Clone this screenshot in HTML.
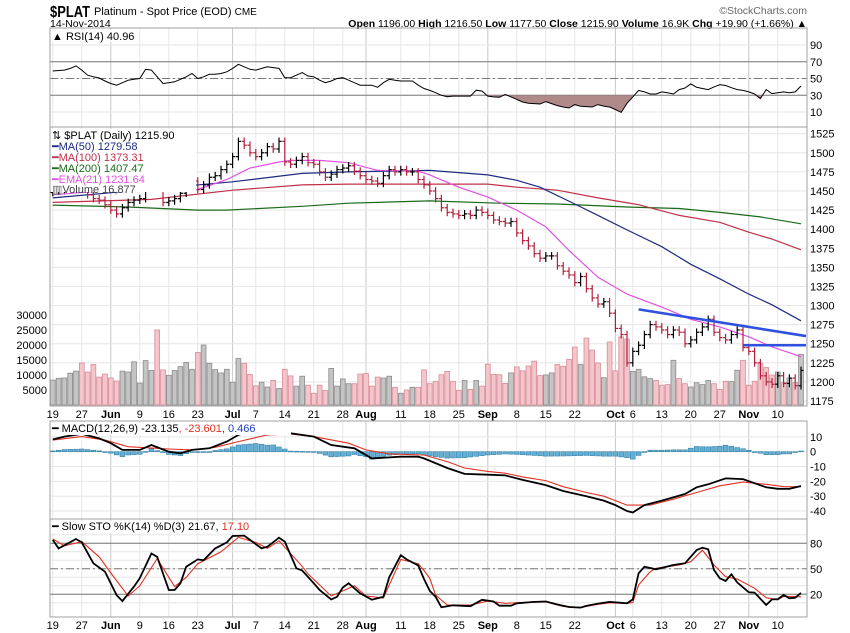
<!DOCTYPE html>
<html><head><meta charset="utf-8"><style>
body{margin:0;background:#fff;}
svg{display:block;font-family:"Liberation Sans",sans-serif;}
</style></head><body>
<svg id="chart" width="850" height="633" viewBox="0 0 850 633" xmlns="http://www.w3.org/2000/svg">
<rect width="850" height="633" fill="#fff"/>
<g>
<text x="50" y="17" font-size="16" font-weight="bold" textLength="40" lengthAdjust="spacingAndGlyphs">$PLAT</text>
<text x="94" y="15" font-size="11">Platinum  - Spot Price (EOD) <tspan font-size="10">CME</tspan></text>
<text x="50" y="27" font-size="10.5">14-Nov-2014</text>
<text x="807" y="14" font-size="10.5" fill="#666" text-anchor="end">©StockCharts.com</text>
<text x="807" y="27" font-size="10.5" text-anchor="end"><tspan font-weight="bold">Open</tspan> 1196.00 <tspan font-weight="bold">High</tspan> 1216.50 <tspan font-weight="bold">Low</tspan> 1177.50 <tspan font-weight="bold">Close</tspan> 1215.90 <tspan font-weight="bold">Volume</tspan> 16.9K <tspan font-weight="bold">Chg</tspan> +19.90 (+1.66%) ▲</text>
</g>
<g id="grid"></g>
<g id="marks"></g>
<g id="axes"></g>
</svg>
<script>
const closes=[1450,1452,1455,1460,1465,1455,1445,1440,1438,1432,1425,1420,1428,1435,1438,1440,1482,1483,1455,1435,1437,1440,1447,1455,1463,1452,1458,1468,1470,1478,1485,1495,1515,1510,1500,1495,1500,1508,1505,1515,1488,1485,1490,1495,1487,1485,1475,1468,1472,1478,1480,1483,1476,1470,1465,1463,1460,1470,1478,1475,1478,1475,1475,1465,1458,1450,1440,1428,1422,1420,1418,1420,1418,1425,1422,1418,1412,1410,1408,1410,1395,1385,1378,1368,1362,1365,1365,1352,1345,1340,1330,1338,1322,1310,1302,1305,1290,1270,1262,1225,1240,1248,1262,1275,1272,1268,1262,1268,1265,1250,1255,1265,1272,1282,1265,1258,1255,1262,1268,1245,1240,1225,1208,1200,1197,1208,1198,1205,1195,1215];
const volumesK=[8.3,8.9,9.0,10.6,11.3,14.0,11.0,13.5,9.3,10.3,9.0,8.0,11.3,11.0,14.4,7.3,14.8,11.5,25.0,11.7,9.9,11.5,12.8,14.2,11.9,17.5,20.0,13.9,11.8,10.7,11.9,7.6,15.5,13.9,10.2,6.4,7.6,6.0,8.2,5.5,11.9,9.7,6.3,9.6,6.6,3.9,6.6,4.8,12.2,6.3,8.7,7.1,7.1,10.3,10.5,6.3,9.3,9.0,9.6,5.9,3.9,5.0,5.9,5.9,11.7,7.1,7.9,10.1,11.2,7.9,4.9,8.2,5.2,8.2,6.3,13.6,10.2,10.1,7.2,10.7,12.7,11.4,13.0,14.6,9.8,10.0,10.7,13.5,12.9,15.2,19.3,13.5,22.3,18.3,14.0,9.1,21.0,11.4,22.7,22.0,11.2,11.9,9.4,8.8,8.2,6.6,6.8,14.9,8.8,7.1,6.0,7.4,6.8,8.2,7.1,5.2,7.9,7.8,11.6,14.9,6.6,7.9,14.0,12.5,10.0,11.0,7.5,9.0,7.5,16.9];
const rsiValues=[59,59.5,60,62,65,60,54,52,50.6,47,44,42,45,48,49,50,61,60,52,44,45,46,49,52,56,50,52,55,55,56,58,62,67,64,61,60,62,64,63,62,51,51,54,57,53,52,48,45,47,50,51,48,45,42,42,42,39.5,45,49,48,47,47,47,42,38,35.8,33,30,28.3,29,29,29,29,36,35,29,28,27.7,31,28,25,22,20.4,20,19.6,22.4,20,17.6,16,14.8,18.8,16.8,16.5,16,18.8,17,16,13,9.5,20.4,28,35.8,34,31.5,31.5,34,33,31.5,36.7,38.7,43.5,39.5,38,36.7,40,42.7,41.6,39,36.7,35.8,34,31.5,26,36.7,32,33,34,33,34,41];
const ma50Idx=[0,31,43,51,65,75,80,84,90,94,99,105,110,115,120,124,129];
const ma50Val=[1441,1462,1473,1475,1477,1471,1464,1455,1433,1418,1399,1377,1354,1335,1315,1301,1280];
const ma100Idx=[0,17,31,43,51,65,75,80,87,94,101,108,115,120,124,129];
const ma100Val=[1435,1439,1451,1458,1459,1459,1459,1455,1451,1441,1432,1418,1409,1396,1387,1373];
const ma200Idx=[0,13,25,30,43,51,65,77,87,99,108,115,122,129];
const ma200Val=[1431.5,1429,1425,1425,1430,1434,1437,1434,1433,1429,1427,1422,1416,1407];
const emaIdx=[0,8,17,21,25,30,34,39,41,46,51,56,63,65,70,75,80,85,89,94,99,105,110,115,120,124,129];
const emaVal=[1445,1450,1458,1451,1452,1465,1480,1488,1490,1490,1487,1477,1476,1471,1455,1442,1425,1403,1372,1337,1315,1298,1282,1272,1259,1246,1233];
const macdIdx=[0,2,5,8,10,12,15,17,20,22,24,27,30,32,35,38,41,45,48,52,55,60,63,64,68,71,75,78,81,85,88,92,95,97,99,100,102,105,109,111,113,116,119,123,125,127,129];
const macdVal=[8.3,10.2,12,9,5.7,1.2,1.2,4.5,0,-1.1,1.2,2.3,6.8,11.3,15,16,12.4,10.2,4.5,2.3,-4.5,-3.4,-3.4,-4.5,-11,-15,-15.5,-16,-19,-22.5,-26.5,-30,-33,-36,-40,-41,-36,-33,-28.5,-24,-22,-18,-18.5,-24,-25,-25,-23.1];
const signalIdx=[0,5,9,13,20,24,28,32,37,41,45,51,54,58,64,68,71,75,78,81,85,88,92,95,97,99,103,107,111,115,119,123,126,129];
const signalVal=[7.8,10.2,7.8,3.4,1.8,1.2,3,6.8,11.3,12,10.2,5.7,1.2,-1.5,-2.2,-6.7,-11,-13.3,-14.5,-17,-19.5,-23.6,-27.5,-30,-33,-36,-36,-32,-27.5,-23,-20.5,-22,-23.5,-23.6];
const stoKIdx=[0,1,4,5,7,9,11,12,14,15,17,18,20,21,22,23,25,26,28,30,31,33,34,36,37,39,40,42,43,45,46,48,49,50,51,53,55,57,58,60,61,63,64,65,66,67,69,72,74,76,77,79,80,83,85,87,89,91,92,94,96,99,100,101,102,104,107,109,111,112,113,114,115,116,117,118,120,121,123,124,125,126,127,128,129];
const stoKVal=[83.9,74,85,81,56.5,46.6,19,12,29,39,68,64,25,25,33,52.5,61,60,74,81,88.6,89,84,74,76,86.6,82,50.6,48,33,25,14,17,28,33,21,13.6,17,40,66,61,54,38,24,17,4.7,7,6,13.5,11.5,6.6,6.6,9.4,11,11.5,8,5,4.3,6.3,9,11,9.4,14,44.7,52.5,49.4,54.5,56.5,72,74.8,73,48.6,38.8,35.6,43.5,34,22.4,22,7.4,14,14.2,19.2,15.3,16,21.7];
const stoDIdx=[0,2,5,8,10,13,15,18,20,21,23,25,29,32,35,37,39,43,44,48,52,54,57,60,63,64,65,66,68,70,72,75,78,81,85,88,91,94,96,99,100,101,103,104,108,110,112,114,116,118,121,123,125,126,129];
const stoDVal=[85,77,82,64,45,18,30,62,40,29,40,56,70,87,81,74,83,53,44,18,30,18,15.6,61,56,48,38.8,19,7.4,7.4,7.4,12,9.4,10.4,11,5.6,4.7,8.2,10,9.4,10.4,31,46.6,50.6,54.5,58.4,72,54.5,40.7,38,27,16,13.5,17.6,17.1];
const dateIdx=[0,5,10,15,20,25,31,35,40,45,50,54,60,65,70,75,80,85,90,97,100,105,110,115,120,125];
const dateLabels=["19","27","Jun","9","16","23","Jul","7","14","21","28","Aug","11","18","25","Sep","8","15","22","Oct","6","13","20","27","Nov","10"];
const monthIdx=[10,31,54,75,97,120];
const priceTicks=[1525,1500,1475,1450,1425,1400,1375,1350,1325,1300,1275,1250,1225,1200,1175];
const volTicks=[30000,25000,20000,15000,10000,5000];
const rsiTicks=[90,70,50,30,10];
const macdTicks=[10,0,-10,-20,-30,-40];
const stoTicks=[80,50,20];
const trendIdx=[101,129];
const trendVal=[1295,1260];
const supportIdx=[119,129];
const supportVal=[1248,1248];

const L=50,R=807;
const X=i=>52.8+5.8*i;
const YP=v=>133.7+(1525-v)*0.7637;
const YV=v=>405-v*0.003;
const YR=v=>112-(v-10)*0.8375;
const YM=v=>451.7-v*1.483;
const YS=v=>594.3-(v-20)*0.85;
const NS="http://www.w3.org/2000/svg";
const grid=document.getElementById('grid'),marks=document.getElementById('marks'),axes=document.getElementById('axes');
function mk(tag,attrs,parent){const e=document.createElementNS(NS,tag);for(const k in attrs)e.setAttribute(k,attrs[k]);parent.appendChild(e);return e;}
function pts(idx,val,Y){return idx.map((d,k)=>X(d).toFixed(1)+','+Y(val[k]).toFixed(1)).join(' ');}

const panels=[[28,127],[127,406],[421,519],[519,617]];
panels.forEach(p=>{
  dateIdx.forEach(d=>{const l=mk('line',{x1:X(d),x2:X(d),y1:p[0],y2:p[1],stroke:monthIdx.includes(d)?'#c8c8c8':'#e6e6e6','stroke-width':1},grid);
    
    });
});
function hgrid(ticks,Y){ticks.forEach(t=>{const l=mk('line',{x1:L,x2:R,y1:Y(t),y2:Y(t),stroke:'#e6e6e6'},grid);
  
  });}
hgrid(priceTicks,YP);hgrid(rsiTicks,YR);hgrid(macdTicks,YM);hgrid([90,80,70,60,50,40,30,20,10],YS);
function rticks(ticks,Y,name){ticks.forEach(t=>{const e=mk('text',{x:810,y:Y(t)+4,'font-size':11},axes);e.textContent=t;
  
  });}
rticks(priceTicks,YP,'price-tick-label');rticks(rsiTicks,YR,'rsi-tick-label');rticks(macdTicks,YM,'macd-tick-label');rticks(stoTicks,YS,'sto-tick-label');
volTicks.forEach(t=>{const e=mk('text',{x:47,y:YV(t)+4,'font-size':11,'text-anchor':'end'},axes);e.textContent=t;
  
  });
[414,625].forEach(yy=>{dateIdx.forEach((d,k)=>{const m=monthIdx.includes(d);const e=mk('text',{x:X(d),y:yy+4,'font-size':11,'text-anchor':'middle','font-weight':m?'bold':'normal'},axes);e.textContent=dateLabels[k];
  
  });});
volumesK.forEach((v,i)=>{const dn=i>0&&closes[i]<closes[i-1];const y=YV(v*1000);
  const b=mk('rect',{x:X(i)-2.4,y:y,width:4.8,height:405-y,fill:dn?'#f4c6cc':'#c4c4c4',stroke:dn?'#d88c98':'#8c8c8c','stroke-width':0.8},marks);
  
  });
[[ma200Idx,ma200Val,'#1a6a1a','ma200-line'],[ma100Idx,ma100Val,'#c03048','ma100-line'],[ma50Idx,ma50Val,'#1c2a80','ma50-line'],[emaIdx,emaVal,'#e050e0','ema21-line']].forEach(s=>{
  const p=mk('polyline',{points:pts(s[0],s[1],YP),fill:'none',stroke:s[2],'stroke-width':1.2},marks);
  
  });
closes.forEach((c,i)=>{const o=i>0?closes[i-1]:c-2;const hi=Math.max(o,c)+5,lo=Math.min(o,c)-5;const col=c>=o?'#000':'#b0203c';const x=X(i);
  const g=mk('g',{stroke:col,'stroke-width':1.2},marks);
  
  
  mk('line',{x1:x,x2:x,y1:YP(hi),y2:YP(lo)},g);mk('line',{x1:x-2.6,x2:x,y1:YP(o),y2:YP(o)},g);mk('line',{x1:x,x2:x+2.6,y1:YP(c),y2:YP(c)},g);});
[[trendIdx,trendVal,'downtrend-line'],[supportIdx,supportVal,'support-line']].forEach(s=>{
  const l=mk('line',{x1:X(s[0][0]),y1:YP(s[1][0]),x2:R-1,y2:YP(s[1][1]),stroke:'#3050e0','stroke-width':2.6},marks);
  
  });
[70,30].forEach(v=>{const l=mk('line',{x1:L,x2:R,y1:YR(v),y2:YR(v),stroke:'#777'},marks);
  
  });
const r50=mk('line',{x1:L,x2:R,y1:YR(50),y2:YR(50),stroke:'#777','stroke-dasharray':'8,3,2,3'},marks);


const rIdx=rsiValues.map((v,i)=>i);
const clip=mk('clipPath',{id:'below30'},marks);mk('rect',{x:L,y:YR(30),width:R-L,height:YR(0)-YR(30)},clip);
const rsiArea=mk('polygon',{points:pts(rIdx,rsiValues,YR)+' '+X(129)+','+YR(30)+' '+X(0)+','+YR(30),fill:'#b08a88','clip-path':'url(#below30)'},marks);


const rsiLine=mk('polyline',{points:pts(rIdx,rsiValues,YR),fill:'none',stroke:'#000','stroke-width':1},marks);


function interp(idx,val,i){for(let k=0;k<idx.length-1;k++){if(i>=idx[k]&&i<=idx[k+1]){const t=(i-idx[k])/(idx[k+1]-idx[k]);return val[k]+t*(val[k+1]-val[k]);}}return val[val.length-1];}
for(let i=0;i<130;i++){const h=interp(macdIdx,macdVal,i)-interp(signalIdx,signalVal,i);const y0=YM(0),y1=YM(h);
  const b=mk('rect',{x:X(i)-2.4,y:Math.min(y0,y1),width:4.8,height:Math.max(0.8,Math.abs(y1-y0)),fill:'#5fb0d4',stroke:'#3a80a8','stroke-width':0.6},marks);
  
  }
const sig=mk('polyline',{points:pts(signalIdx,signalVal,YM),fill:'none',stroke:'#e03020','stroke-width':1.1},marks);


const mac=mk('polyline',{points:pts(macdIdx,macdVal,YM),fill:'none',stroke:'#000','stroke-width':1.8},marks);


[80,20].forEach(v=>{const l=mk('line',{x1:L,x2:R,y1:YS(v),y2:YS(v),stroke:'#777'},marks);
  
  });
const s50=mk('line',{x1:L,x2:R,y1:YS(50),y2:YS(50),stroke:'#777','stroke-dasharray':'8,3,2,3'},marks);


const sd=mk('polyline',{points:pts(stoDIdx,stoDVal,YS),fill:'none',stroke:'#e03020','stroke-width':1.1},marks);


const sk=mk('polyline',{points:pts(stoKIdx,stoKVal,YS),fill:'none',stroke:'#000','stroke-width':1.8},marks);


panels.forEach(p=>{const r=mk('rect',{x:L,y:p[0],width:R-L,height:p[1]-p[0],fill:'none',stroke:'#a0a0a0'},axes);
  
  });
function legend(x,y,parts,name){const t=mk('text',{x:x,y:y,'font-size':11},axes);
  
  
  parts.forEach(p=>{const s=mk('tspan',{fill:p[1]},t);s.textContent=p[0];});return t;}
mk('rect',{x:51,y:129,width:145,height:63,fill:'#fff'},axes);
mk('rect',{x:51,y:30,width:78,height:12,fill:'#fff'},axes);
mk('rect',{x:51,y:423,width:240,height:12,fill:'#fff'},axes);
mk('rect',{x:51,y:521,width:230,height:12,fill:'#fff'},axes);
legend(52,40,[['▲ RSI(14) 40.96','#000']],'rsi-legend');
legend(52,139,[['⇅ $PLAT (Daily) 1215.90','#000']],'price-legend');
legend(52,150,[['━','#1c2a80'],['MA(50) 1279.58','#1c2a80']],'ma50-legend');
legend(52,161,[['━','#c03048'],['MA(100) 1373.31','#c03048']],'ma100-legend');
legend(52,172,[['━','#1a6a1a'],['MA(200) 1407.47','#1a6a1a']],'ma200-legend');
legend(52,183,[['━','#e050e0'],['EMA(21) 1231.64','#e050e0']],'ema21-legend');
legend(52,193,[['▥','#666'],['Volume 16,877','#444']],'volume-legend');
legend(52,432,[['━ MACD(12,26,9) -23.135','#000'],[', -23.601','#e03020'],[', 0.466','#2040c0']],'macd-legend');
legend(52,530,[['━ Slow STO %K(14) %D(3) 21.67,','#000'],[' 17.10','#e03020']],'sto-legend');
</script>
</body></html>
